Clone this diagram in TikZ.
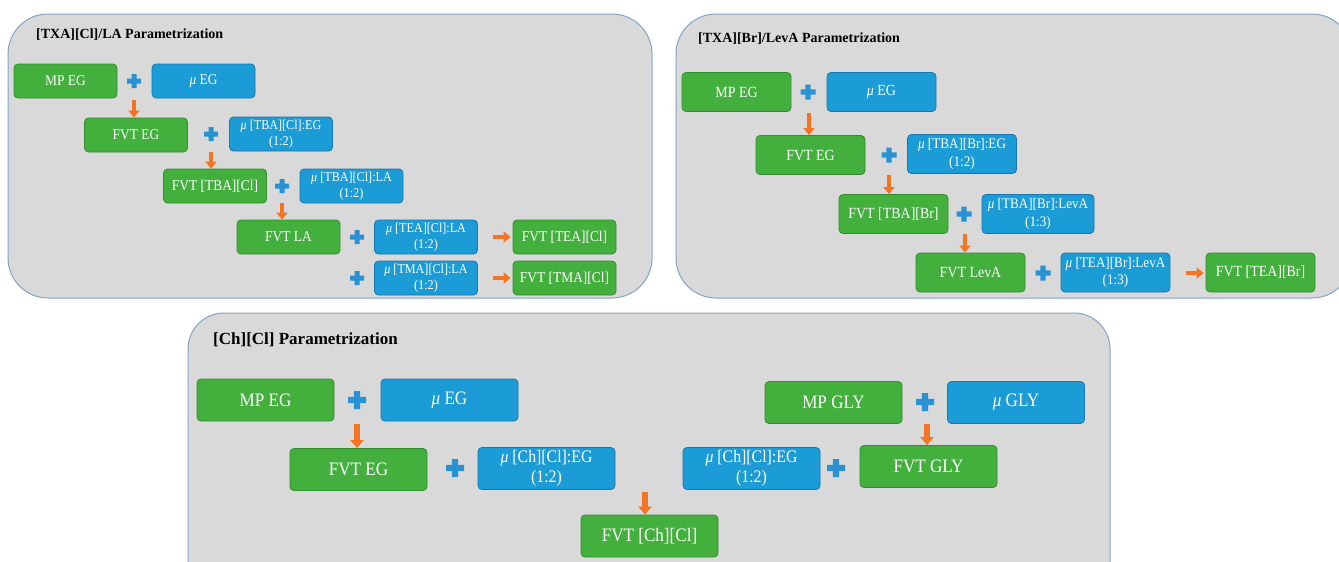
\documentclass[tikz,border=0pt]{standalone}
\usepackage{fontspec}
\setmainfont{Liberation Serif}[FakeStretch=0.9]
\newfontfamily\ttlfont{Liberation Serif}
\usetikzlibrary{arrows.meta}
\definecolor{boxgreen}{RGB}{67,176,62}
\definecolor{greenedge}{RGB}{52,140,46}
\definecolor{boxblue}{RGB}{28,156,215}
\definecolor{blueedge}{RGB}{22,120,178}
\definecolor{arrowor}{RGB}{244,116,36}
\definecolor{plusblue}{RGB}{40,146,210}
\definecolor{panelgray}{RGB}{217,217,217}
\definecolor{paneledge}{RGB}{130,165,200}
\newcommand\pls[3]{\fill[plusblue,shift={(#1)}] (-#2,-#3) rectangle (#2,#3) (-#3,-#2) rectangle (#3,#2);}
\tikzset{
  panel/.style={fill=panelgray, draw=paneledge, line width=1pt, rounded corners=40pt},
  ttl/.style={anchor=west, font=\ttlfont\bfseries\fontsize{#1}{#1}\selectfont, inner sep=0pt},
  gbox/.style={rectangle, rounded corners=4pt, fill=boxgreen, draw=greenedge, line width=0.8pt, text=white, align=center, inner sep=1pt},
  bbox/.style={rectangle, rounded corners=4pt, fill=boxblue, draw=blueedge, line width=0.8pt, text=white, align=center, inner sep=1pt},
  szA/.style={minimum width=103pt, minimum height=34pt},
  szB/.style={minimum width=109pt, minimum height=39pt},
  szC/.style={minimum width=137pt, minimum height=42pt},
  fA/.style={font=\fontsize{14.9}{16}\selectfont},
  fAs/.style={font=\fontsize{13.5}{16}\selectfont},
  fB/.style={font=\fontsize{15.5}{18}\selectfont},
  fBs/.style={font=\fontsize{14.6}{17.5}\selectfont},
  fC/.style={font=\fontsize{19}{20}\selectfont},
  fCs/.style={font=\fontsize{17.6}{19.5}\selectfont},
  arr/.style={draw=arrowor, line width=4.5pt, -{Triangle[width=11pt,length=7pt]}},
  arrC/.style={draw=arrowor, line width=5.5pt, -{Triangle[width=13pt,length=8pt]}},
}
\begin{document}
\begin{tikzpicture}[x=1pt,y=-1pt]
\useasboundingbox (0,0) rectangle (1339,562);
\fill[white] (0,0) rectangle (1339,562);

% ---------- Panel 1 ----------
\draw[panel] (8,14) rectangle (652,298);
\node[ttl=14] (t1) at (36,35) {[TXA][Cl]/LA Parametrization};
\node[gbox,szA,fA] (mpeg1) at (65.5,81) {MP EG};
\node[bbox,szA,fA] (mueg1) at (203.5,81) {\textit{μ} EG};
\node[gbox,szA,fA] (fvteg1) at (136,135) {FVT EG};
\node[bbox,szA,fAs] (mutbaeg1) at (281,134) {\textit{μ} [TBA][Cl]:EG\\(1:2)};
\node[gbox,szA,fA] (fvttba1) at (215,186) {FVT [TBA][Cl]};
\node[bbox,szA,fAs] (mutbala1) at (351.5,186) {\textit{μ} [TBA][Cl]:LA\\(1:2)};
\node[gbox,szA,fA] (fvtla1) at (288.5,237) {FVT LA};
\node[bbox,szA,fAs] (mutea1) at (426,237) {\textit{μ} [TEA][Cl]:LA\\(1:2)};
\node[gbox,szA,fA] (fvttea1) at (564.5,237) {FVT [TEA][Cl]};
\node[bbox,szA,fAs] (mutma1) at (426,278) {\textit{μ} [TMA][Cl]:LA\\(1:2)};
\node[gbox,szA,fA] (fvttma1) at (564.5,278) {FVT [TMA][Cl]};
\pls{134,81}{7}{2.5}
\pls{211,134}{7}{2.5}
\pls{282,186}{7}{2.5}
\pls{357,237}{7}{2.5}
\pls{357,278}{7}{2.5}
\coordinate (a11) at (134,100);
\coordinate (a12) at (211,152);
\coordinate (a13) at (282,203);
\coordinate (a14) at (493,237);
\coordinate (a15) at (493,278);
\draw[arr] (a11) -- (a11 |- fvteg1.north);
\draw[arr] (a12) -- (a12 |- fvttba1.north);
\draw[arr] (a13) -- (a13 |- fvtla1.north);
\draw[arr,shorten >=2pt] (a14) -- (a14 -| fvttea1.west);
\draw[arr,shorten >=2pt] (a15) -- (a15 -| fvttma1.west);

% ---------- Panel 2 ----------
\draw[panel] (676,14) rectangle (1352,298);
\node[ttl=14] (t2) at (698,39) {[TXA][Br]/LevA Parametrization};
\node[gbox,szB,fB] (mpeg2) at (736.5,92) {MP EG};
\node[bbox,szB,fB] (mueg2) at (881.5,92) {\textit{μ} EG};
\node[gbox,szB,fB] (fvteg2) at (810.5,155) {FVT EG};
\node[bbox,szB,fBs] (mutbaeg2) at (962,154) {\textit{μ} [TBA][Br]:EG\\(1:2)};
\node[gbox,szB,fB] (fvttba2) at (893.5,214) {FVT [TBA][Br]};
\node[bbox,szB,fBs,minimum width=112pt] (mutbalev2) at (1038,214) {\textit{μ} [TBA][Br]:LevA\\(1:3)};
\node[gbox,szB,fB] (fvtlev2) at (970.5,272.5) {FVT LevA};
\node[bbox,szB,fBs] (mutealev2) at (1115.5,272.5) {\textit{μ} [TEA][Br]:LevA\\(1:3)};
\node[gbox,szB,fB] (fvttea2) at (1260.5,272.5) {FVT [TEA][Br]};
\pls{808,92}{7.5}{2.7}
\pls{889,155}{7.5}{2.7}
\pls{964,214}{7.5}{2.7}
\pls{1043,273}{7.5}{2.7}
\coordinate (a21) at (809,113);
\coordinate (a22) at (889,175);
\coordinate (a23) at (965,234);
\coordinate (a24) at (1186,273);
\draw[arr] (a21) -- (a21 |- fvteg2.north);
\draw[arr] (a22) -- (a22 |- fvttba2.north);
\draw[arr] (a23) -- (a23 |- fvtlev2.north);
\draw[arr,shorten >=2pt] (a24) -- (a24 -| fvttea2.west);

% ---------- Panel 3 ----------
\draw[panel,rounded corners=36pt] (188,313) rectangle (1110,600);
\node[ttl=17] (t3) at (213,340) {[Ch][Cl] Parametrization};
\node[gbox,szC,fC] (mpeg3) at (265.5,400) {MP EG};
\node[bbox,szC,fC] (mueg3) at (449.5,400) {\textit{μ} EG};
\node[gbox,szC,fC] (fvteg3) at (358.5,469.5) {FVT EG};
\node[bbox,szC,fCs] (mucha3) at (546.5,468.5) {\textit{μ} [Ch][Cl]:EG\\(1:2)};
\node[gbox,szC,fC] (fvtch3) at (649.5,536) {FVT [Ch][Cl]};
\node[bbox,szC,fCs] (muchb3) at (751.5,468.5) {\textit{μ} [Ch][Cl]:EG\\(1:2)};
\node[gbox,szC,fC] (fvtgly3) at (928.5,466.5) {FVT GLY};
\node[gbox,szC,fC] (mpgly3) at (833.5,402.5) {MP GLY};
\node[bbox,szC,fC] (mugly3) at (1016,402.5) {\textit{μ} GLY};
\pls{357,400}{9}{3.2}
\pls{455,468}{9}{3.2}
\pls{836,468}{9}{3.2}
\pls{925,402}{9}{3.2}
\coordinate (a31) at (357,424);
\coordinate (a32) at (645,492);
\coordinate (a33) at (927,424);
\draw[arrC] (a31) -- (a31 |- fvteg3.north);
\draw[arrC] (a32) -- (a32 |- fvtch3.north);
\draw[arrC] (a33) -- (a33 |- fvtgly3.north);
\end{tikzpicture}
\end{document}
